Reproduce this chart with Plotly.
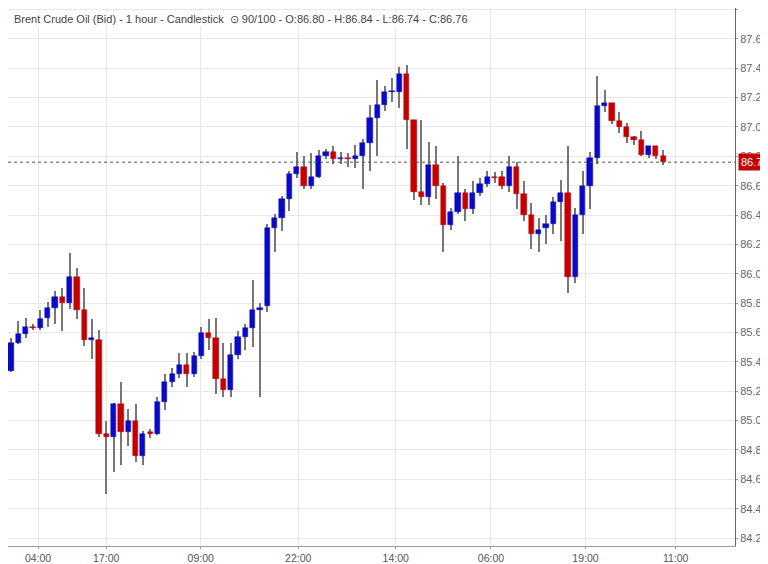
import plotly.graph_objects as go

opens = [85.34,85.53,85.59,85.64,85.63,85.70,85.77,85.84,85.80,85.98,85.75,85.55,85.55,84.91,84.89,85.11,84.92,85.00,84.76,84.92,
         84.91,85.13,85.26,85.32,85.38,85.32,85.44,85.60,85.56,85.28,85.21,85.45,85.57,85.63,85.75,85.78,86.31,86.38,86.51,86.68,
         86.73,86.60,86.66,86.80,86.83,86.78,86.79,86.78,86.80,86.89,87.06,87.15,87.24,87.24,87.36,87.05,86.56,86.52,86.74,86.60,
         86.33,86.42,86.55,86.44,86.55,86.61,86.66,86.66,86.60,86.73,86.54,86.40,86.27,86.31,86.34,86.49,86.55,85.98,86.40,86.60,
         86.79,87.14,87.16,87.04,87.00,86.93,86.91,86.81,86.87,86.80]
closes = [85.53,85.59,85.64,85.63,85.69,85.77,85.84,85.80,85.98,85.75,85.55,85.56,84.91,84.89,85.11,84.92,85.00,84.76,84.91,84.91,
          85.13,85.26,85.32,85.38,85.32,85.44,85.60,85.56,85.28,85.21,85.45,85.57,85.63,85.75,85.77,86.31,86.38,86.51,86.68,86.73,
          86.60,86.66,86.80,86.83,86.78,86.79,86.78,86.80,86.89,87.06,87.15,87.24,87.24,87.36,87.05,86.56,86.52,86.74,86.60,86.33,
          86.42,86.55,86.44,86.55,86.61,86.66,86.65,86.60,86.73,86.54,86.40,86.27,86.30,86.34,86.49,86.55,85.98,86.40,86.60,86.79,
          87.14,87.16,87.04,87.00,86.93,86.91,86.81,86.87,86.80,86.76]
highs = [85.56,85.68,85.70,85.66,85.75,85.81,85.88,85.90,86.14,86.04,85.90,85.69,85.62,85.00,85.12,85.26,85.08,85.11,84.93,84.94,
         85.16,85.32,85.36,85.46,85.46,85.47,85.64,85.69,85.70,85.53,85.53,85.61,85.66,85.96,85.80,86.34,86.41,86.53,86.70,86.83,
         86.80,86.82,86.84,86.85,86.87,86.83,86.82,86.88,86.92,87.15,87.32,87.28,87.33,87.41,87.42,87.05,87.05,86.90,86.87,86.62,
         86.45,86.80,86.58,86.63,86.65,86.70,86.69,86.70,86.80,86.76,86.63,86.48,86.38,86.40,86.52,86.64,86.87,86.45,86.70,86.83,
         87.35,87.25,87.16,87.10,87.03,86.94,86.97,86.87,86.87,86.84]
lows = [85.33,85.52,85.56,85.62,85.62,85.64,85.66,85.61,85.76,85.69,85.51,85.42,84.89,84.50,84.65,84.70,84.83,84.72,84.70,84.88,
        84.90,85.07,85.23,85.29,85.23,85.30,85.42,85.48,85.18,85.16,85.16,85.42,85.48,85.50,85.16,85.74,86.15,86.29,86.43,86.65,
        86.58,86.58,86.65,86.78,86.75,86.75,86.73,86.72,86.58,86.70,86.80,87.11,87.17,87.13,86.85,86.50,86.47,86.47,86.51,86.15,
        86.30,86.41,86.36,86.41,86.53,86.59,86.62,86.58,86.56,86.44,86.36,86.17,86.15,86.20,86.27,86.22,85.87,85.94,86.27,86.44,
        86.75,87.10,87.02,86.96,86.89,86.88,86.80,86.79,86.78,86.74]
x = list(range(len(opens)))

tick_pos = [3.7, 13, 25.9, 39.2, 52.5, 65.5, 78.4, 90.7]
tick_text = ["04:00<br>Jun/28/24", "17:00<br> ", "09:00<br>Jul/1/24", "22:00<br> ", "14:00<br>Jul/2/24",
             "06:00<br>Jul/3/24", "19:00<br> ", "11:00<br>Jul/4/24"]
last_price = 86.76

BLUE = "#0a0ac4"
RED = "#c40000"
up = [c >= o for o, c in zip(opens, closes)]
colors = [BLUE if u else RED for u in up]

fig = go.Figure()
fig.add_trace(go.Bar(x=x, y=[h - l for h, l in zip(highs, lows)], base=lows, width=0.14,
                     marker=dict(color="#777777", line=dict(width=0)), hoverinfo="skip"))
fig.add_trace(go.Bar(x=x, y=[max(abs(c - o), 0.004) for o, c in zip(opens, closes)],
                     base=[min(o, c) if abs(c - o) >= 0.004 else (o + c) / 2 - 0.002 for o, c in zip(opens, closes)],
                     width=0.72, marker=dict(color=colors, line=dict(color=colors, width=0.5))))
fig.add_hline(y=last_price, line=dict(color="#555555", width=1, dash="dot"))

fig.add_annotation(x=1.0, xref="paper", xanchor="left", y=last_price, yref="y", text="86.76",
                   showarrow=False, bgcolor=RED, font=dict(color="white", size=11, family="Liberation Sans"),
                   borderpad=2, xshift=3)
fig.add_annotation(x=0.005, xref="paper", y=1, yref="paper", xanchor="left", yanchor="top",
                   text="Brent Crude Oil (Bid) - 1 hour - Candlestick  ⊙ 90/100 - O:86.80 - H:86.84 - L:86.74 - C:86.76",
                   showarrow=False, font=dict(size=11, color="#444444", family="Liberation Sans"),
                   bgcolor="white", yshift=-3)

fig.update_layout(
    width=768, height=564, margin=dict(l=0, r=41, t=0, b=26),
    paper_bgcolor="white", plot_bgcolor="white", showlegend=False, barmode="overlay", bargap=0,
    font=dict(family="Liberation Sans", size=11, color="#555555"),
    xaxis=dict(range=[-0.4, 98.8], tickvals=tick_pos, ticktext=tick_text, showgrid=True, automargin=False,
               gridcolor="#e8e8e8", zeroline=False, ticks="outside", ticklen=2, tickcolor="#999",
               showline=True, linecolor="#999", tickfont=dict(size=10.5, color="#555")),
    yaxis=dict(range=[84.146, 87.81], side="right", dtick=0.2, tick0=84.2, tickformat=".2f", automargin=False,
               showgrid=True, gridcolor="#e8e8e8", zeroline=False, showline=True, linecolor="#666",
               ticks="outside", ticklen=2, tickcolor="#999", tickfont=dict(size=11, color="#666")),
)
fig.write_html("out.html")
